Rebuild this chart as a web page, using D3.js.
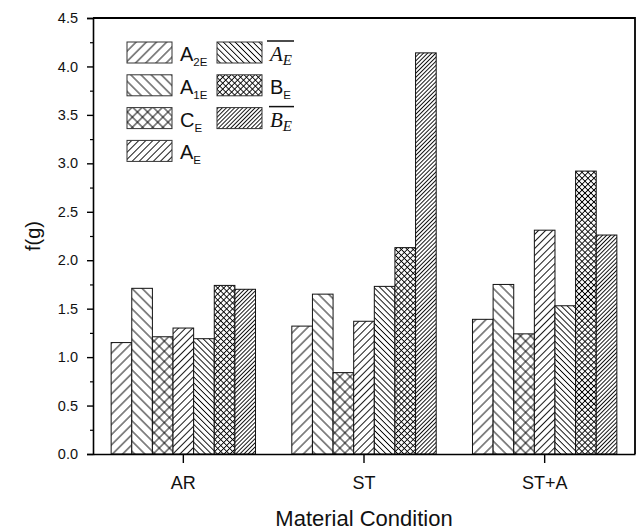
<!DOCTYPE html>
<html>
<head>
<meta charset="utf-8">
<script src="https://cdn.jsdelivr.net/npm/d3@7"></script>
<style>
  html, body { margin: 0; padding: 0; background: #fff; }
  svg { display: block; }
</style>
</head>
<body>
<svg id="chart" width="640" height="530"></svg>
<script>
// ---------- data ----------
const categories = ["AR", "ST", "ST+A"];
const seriesKeys = ["A2E", "A1E", "CE", "AE", "AbarE", "BE", "BbarE"];
const A2E   = [1.15, 1.32, 1.39];
const A1E   = [1.71, 1.65, 1.75];
const CE    = [1.21, 0.84, 1.24];
const AE    = [1.30, 1.37, 2.31];
const AbarE = [1.19, 1.73, 1.53];
const BE    = [1.74, 2.13, 2.92];
const BbarE = [1.70, 4.14, 2.26];
const yTicks = [0, 0.5, 1.0, 1.5, 2.0, 2.5, 3.0, 3.5, 4.0, 4.5];
const yMinorTicks = [0.25, 0.75, 1.25, 1.75, 2.25, 2.75, 3.25, 3.75, 4.25];
const legendMain = ["A", "A", "C", "A", "A", "B", "B"];
const legendSub  = ["2E", "1E", "E", "E", "E", "E", "E"];
const xTitle = "Material Condition";
const yTitle = "f(g)";

const seriesValues = { A2E, A1E, CE, AE, AbarE, BE, BbarE };

// ---------- styles ----------
const patternStyle = {
  A2E:   { kind: "/", s: 7.2 },
  A1E:   { kind: "\\", s: 7.2 },
  CE:    { kind: "x", s: 7.2 },
  AE:    { kind: "/", s: 5.0 },
  AbarE: { kind: "\\", s: 4.2 },
  BE:    { kind: "x", s: 4.2 },
  BbarE: { kind: "/", s: 2.9 }
};
const legendStyle = {
  A2E:   { italic: false, bar: false },
  A1E:   { italic: false, bar: false },
  CE:    { italic: false, bar: false },
  AE:    { italic: false, bar: false },
  AbarE: { italic: true,  bar: true },
  BE:    { italic: false, bar: false },
  BbarE: { italic: true,  bar: true }
};

const svg = d3.select("#chart");
const defs = svg.append("defs");
const sans = "'Liberation Sans', Arial, Helvetica, sans-serif";
const serif = "'Liberation Serif', 'Times New Roman', serif";

seriesKeys.forEach(k => {
  const st = patternStyle[k];
  const s = st.s;
  const p = defs.append("pattern")
    .attr("id", "pat-" + k)
    .attr("patternUnits", "userSpaceOnUse")
    .attr("width", s).attr("height", s)
    .attr("patternTransform", `rotate(${st.kind === "\\" ? -45 : 45})`);
  p.append("rect").attr("width", s).attr("height", s).attr("fill", "#fff");
  p.append("line").attr("x1", s / 2).attr("y1", 0).attr("x2", s / 2).attr("y2", s)
    .attr("stroke", "#000").attr("stroke-width", 0.9);
  if (st.kind === "x") {
    p.append("line").attr("x1", 0).attr("y1", s / 2).attr("x2", s).attr("y2", s / 2)
      .attr("stroke", "#000").attr("stroke-width", 0.9);
  }
});

// ---------- scales ----------
const pLeft = 93, pRight = 635, pTop = 18, pBottom = 454;
const x = d3.scaleBand().domain(categories).range([pLeft, pRight]).paddingInner(0).paddingOuter(0);
const xs = d3.scaleBand().domain(seriesKeys).range([0, x.bandwidth()]).paddingInner(0).paddingOuter(0.88);
const y = d3.scaleLinear().domain([0, 4.5]).range([pBottom, pTop]);

// ---------- bars ----------
const groups = svg.append("g").selectAll("g")
  .data(categories)
  .join("g")
  .attr("transform", d => `translate(${x(d)},0)`);

groups.selectAll("rect")
  .data((c, ci) => seriesKeys.map(k => ({ key: k, value: seriesValues[k][ci] })))
  .join("rect")
  .attr("x", d => xs(d.key))
  .attr("y", d => y(d.value))
  .attr("width", xs.bandwidth())
  .attr("height", d => y(0) - y(d.value))
  .attr("fill", d => `url(#pat-${d.key})`)
  .attr("stroke", "#111")
  .attr("stroke-width", 1);

// ---------- axes ----------
const yAxis = svg.append("g")
  .attr("transform", `translate(${pLeft},0)`)
  .call(d3.axisLeft(y).tickValues(yTicks).tickFormat(d3.format(".1f")).tickSize(6).tickPadding(9));
yAxis.selectAll("text").attr("font-family", sans).attr("font-size", 14.5).attr("fill", "#111");
yAxis.select(".domain").attr("stroke-width", 1.6);
yAxis.selectAll(".tick line").attr("stroke-width", 1.4);

const yMinor = svg.append("g")
  .attr("transform", `translate(${pLeft},0)`)
  .call(d3.axisLeft(y).tickValues(yMinorTicks).tickFormat("").tickSize(3));
yMinor.select(".domain").remove();
yMinor.selectAll(".tick line").attr("stroke-width", 1.2);

const xAxis = svg.append("g")
  .attr("transform", `translate(0,${pBottom})`)
  .call(d3.axisBottom(x).tickSize(9).tickPadding(13).tickSizeOuter(0));
xAxis.selectAll("text").attr("font-family", sans).attr("font-size", 18).attr("fill", "#111");
xAxis.select(".domain").attr("stroke-width", 1.6);
xAxis.selectAll(".tick line").attr("stroke-width", 1.4);

// frame top & right
svg.append("path")
  .attr("d", `M${pLeft},${pTop}H${pRight}V${pBottom}`)
  .attr("fill", "none").attr("stroke", "#000").attr("stroke-width", 1.8);

// ---------- titles ----------
svg.append("text")
  .attr("x", (pLeft + pRight) / 2).attr("y", 526)
  .attr("text-anchor", "middle")
  .attr("font-family", sans).attr("font-size", 22).attr("fill", "#111")
  .text(xTitle);

svg.append("text")
  .attr("transform", `translate(40,${(pTop + pBottom) / 2}) rotate(-90)`)
  .attr("text-anchor", "middle")
  .attr("font-family", sans).attr("font-size", 20).attr("fill", "#111")
  .text(yTitle);

// ---------- legend ----------
const legendCols = [127, 217];
const rowsPerCol = 4;
const lg = svg.append("g");
seriesKeys.forEach((k, i) => {
  const col = Math.floor(i / rowsPerCol);
  const row = i % rowsPerCol;
  const sx = legendCols[col];
  const sy = 42 + row * 32.8;
  lg.append("rect")
    .attr("x", sx).attr("y", sy).attr("width", 45).attr("height", 21)
    .attr("fill", `url(#pat-${k})`).attr("stroke", "#333").attr("stroke-width", 1);
  const ls = legendStyle[k];
  const t = lg.append("text")
    .attr("x", sx + 53).attr("y", sy + 19)
    .attr("fill", "#111")
    .attr("font-family", ls.italic ? serif : sans)
    .attr("font-style", ls.italic ? "italic" : "normal")
    .attr("font-size", ls.italic ? 21 : 20);
  t.append("tspan").text(legendMain[i]);
  t.append("tspan").attr("dy", ls.italic ? 4 : 5)
    .attr("font-size", ls.italic ? 15 : 11.5)
    .text(legendSub[i]);
  if (ls.bar) {
    const bb = t.node().getBBox();
    lg.append("line")
      .attr("x1", bb.x - 1).attr("x2", bb.x + bb.width + 2)
      .attr("y1", sy - 1).attr("y2", sy - 1)
      .attr("stroke", "#111").attr("stroke-width", 1.5);
  }
});
</script>
</body>
</html>
